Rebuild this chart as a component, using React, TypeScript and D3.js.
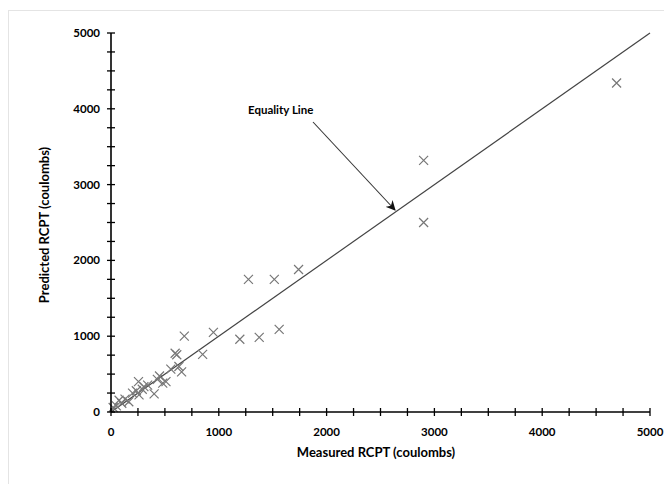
import React, { useRef, useEffect } from 'react';
import * as d3 from 'd3';

// measured vs predicted RCPT (coulombs)
const measured = [
  4690, 2900, 2900, 1275, 1515, 1740, 1560, 1375, 1195, 950, 680, 850, 595, 610,
  630, 655, 555, 450, 430, 510, 255, 340, 400, 235, 260, 165, 75, 100, 20, 305,
  200, 130, 50, 290, 480,
];
const predicted = [
  4340, 3320, 2500, 1750, 1750, 1880, 1090, 985, 960, 1050, 1000, 760, 775, 755,
  600, 530, 565, 475, 430, 400, 400, 355, 240, 280, 225, 135, 155, 115, 60, 335,
  250, 170, 80, 300, 380,
];
const xTicks = [0, 1000, 2000, 3000, 4000, 5000];
const yTicks = [0, 1000, 2000, 3000, 4000, 5000];
const equality = [0, 5000];

const font = 'Lato, "Open Sans", sans-serif';

const App = () => {
  const ref = useRef<SVGSVGElement>(null);

  useEffect(() => {
    const svg = d3.select(ref.current);
    svg.selectAll('*').remove();

    const x = d3.scaleLinear().domain([0, 5000]).range([111, 650]);
    const y = d3.scaleLinear().domain([0, 5000]).range([412, 33]);

    svg
      .append('rect')
      .attr('x', 8.5)
      .attr('y', 10.5)
      .attr('width', 700)
      .attr('height', 500)
      .attr('fill', 'white')
      .attr('stroke', '#e4e4e4');

    // equality line
    svg
      .append('line')
      .attr('x1', x(equality[0]))
      .attr('y1', y(equality[0]))
      .attr('x2', x(equality[1]))
      .attr('y2', y(equality[1]))
      .attr('stroke', '#444')
      .attr('stroke-width', 1.2);

    // points
    const s = 4.5;
    const pts = svg.append('g').attr('stroke', '#777').attr('stroke-width', 1.2);
    measured.forEach((m, i) => {
      const cx = x(m);
      const cy = y(predicted[i]);
      pts
        .append('path')
        .attr('d', `M${cx - s},${cy - s}L${cx + s},${cy + s}M${cx - s},${cy + s}L${cx + s},${cy - s}`)
        .attr('fill', 'none');
    });

    // axes with crossing ticks every 250
    const minor = d3.range(0, 5001, 250);
    const ax = svg.append('g').attr('stroke', '#000');
    ax.append('line')
      .attr('x1', x(0)).attr('x2', x(5000))
      .attr('y1', y(0)).attr('y2', y(0))
      .attr('stroke-width', 1.6);
    ax.append('line')
      .attr('x1', x(0)).attr('x2', x(0))
      .attr('y1', y(0)).attr('y2', y(5000))
      .attr('stroke-width', 1.6);
    minor.forEach((t) => {
      ax.append('line')
        .attr('x1', x(t)).attr('x2', x(t))
        .attr('y1', y(0) - 4).attr('y2', y(0) + 4)
        .attr('stroke-width', 1.3);
      ax.append('line')
        .attr('x1', x(0) - 4).attr('x2', x(0) + 4)
        .attr('y1', y(t)).attr('y2', y(t))
        .attr('stroke-width', 1.3);
    });

    svg
      .selectAll('.xt')
      .data(xTicks)
      .enter()
      .append('text')
      .attr('x', (d) => x(d))
      .attr('y', 436)
      .attr('text-anchor', 'middle')
      .style('font', `bold 11.5px ${font}`)
      .text((d) => String(d));

    svg
      .selectAll('.yt')
      .data(yTicks)
      .enter()
      .append('text')
      .attr('x', 100)
      .attr('y', (d) => y(d) + 4)
      .attr('text-anchor', 'end')
      .style('font', `bold 11.5px ${font}`)
      .text((d) => String(d));

    svg
      .append('text')
      .attr('x', 376)
      .attr('y', 457)
      .attr('text-anchor', 'middle')
      .style('font', `bold 13px ${font}`)
      .text('Measured RCPT (coulombs)');

    svg
      .append('text')
      .attr('transform', 'translate(49,225) rotate(-90)')
      .attr('text-anchor', 'middle')
      .style('font', `bold 13px ${font}`)
      .text('Predicted RCPT (coulombs)');

    // annotation
    svg
      .append('text')
      .attr('x', 248)
      .attr('y', 114)
      .style('font', `bold 11.5px ${font}`)
      .text('Equality Line');

    svg
      .append('defs')
      .append('marker')
      .attr('id', 'arr')
      .attr('viewBox', '0 0 10 10')
      .attr('refX', 9)
      .attr('refY', 5)
      .attr('markerWidth', 9)
      .attr('markerHeight', 9)
      .attr('orient', 'auto')
      .append('path')
      .attr('d', 'M0,0L10,5L0,10L3,5Z')
      .attr('fill', '#111');

    svg
      .append('line')
      .attr('x1', 313)
      .attr('y1', 122)
      .attr('x2', 395)
      .attr('y2', 210)
      .attr('stroke', '#333')
      .attr('stroke-width', 1.1)
      .attr('marker-end', 'url(#arr)');
  }, []);

  return (
    <svg
      ref={ref}
      width={664}
      height={484}
      style={{ position: 'absolute', left: 0, top: 0, background: 'white' }}
    />
  );
};

export default App;
